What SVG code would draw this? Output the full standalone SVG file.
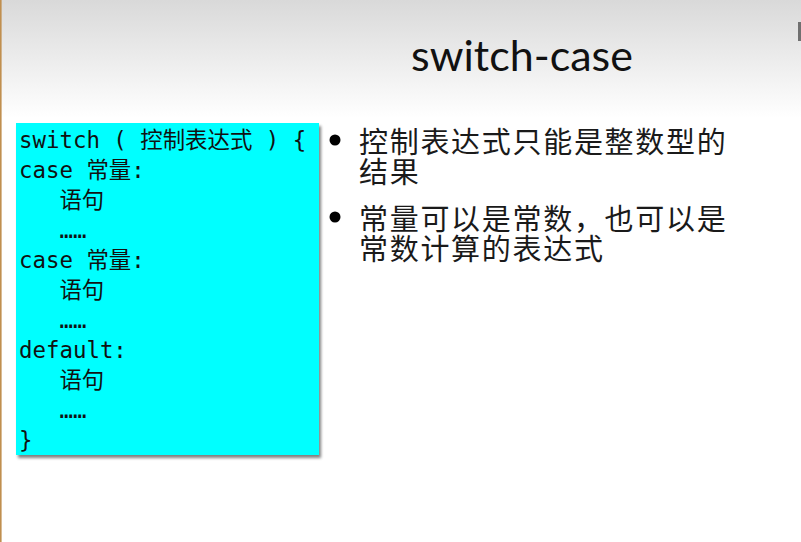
<svg xmlns="http://www.w3.org/2000/svg" width="801" height="542" viewBox="0 0 801 542">
  <defs>
    <linearGradient id="bg" x1="0" y1="0" x2="0" y2="1">
      <stop offset="0" stop-color="#d9d9d9"/>
      <stop offset="1" stop-color="#ffffff"/>
    </linearGradient>
    <filter id="shadow" x="-10%" y="-10%" width="120%" height="120%">
      <feGaussianBlur in="SourceAlpha" stdDeviation="1.5"/>
      <feOffset dx="2" dy="3" result="b"/>
      <feComponentTransfer><feFuncA type="linear" slope="0.5"/></feComponentTransfer>
      <feMerge><feMergeNode/><feMergeNode in="SourceGraphic"/></feMerge>
    </filter>
  </defs>
  <style>
    .code { font-family: "DejaVu Sans Mono", "Noto Sans CJK SC", monospace; font-size: 22.4px; fill: #111; }
    .bul { font-family: "Noto Sans CJK SC", sans-serif; font-size: 29px; letter-spacing: 1.7px; fill: #1a1a1a; }
    .title { font-family: "Lato", "Open Sans", sans-serif; font-size: 43px; fill: #111; }
  </style>
  <rect x="0" y="0" width="801" height="542" fill="#ffffff"/>
  <rect x="0" y="0" width="801" height="118" fill="url(#bg)"/>
  <rect x="0" y="0" width="1.6" height="542" fill="#c08f4f"/>
  <rect x="798" y="22" width="3" height="19" fill="#707070"/>

  <g id="title">
    <text class="title" x="522" y="71" text-anchor="middle">switch-case</text>
  </g>

  <g id="code-box">
    <rect x="16" y="123" width="303" height="332" fill="#00ffff" filter="url(#shadow)"/>
    <text class="code" x="19" y="148" xml:space="preserve">switch ( 控制表达式 ) {</text>
    <text class="code" x="19" y="178" xml:space="preserve">case 常量:</text>
    <text class="code" x="19" y="208" xml:space="preserve">   语句</text>
    <text class="code" x="19" y="238" xml:space="preserve">   ……</text>
    <text class="code" x="19" y="268" xml:space="preserve">case 常量:</text>
    <text class="code" x="19" y="298" xml:space="preserve">   语句</text>
    <text class="code" x="19" y="328" xml:space="preserve">   ……</text>
    <text class="code" x="19" y="358" xml:space="preserve">default:</text>
    <text class="code" x="19" y="388" xml:space="preserve">   语句</text>
    <text class="code" x="19" y="418" xml:space="preserve">   ……</text>
    <text class="code" x="19" y="448" xml:space="preserve">}</text>
  </g>

  <g id="bullet-1">
    <circle cx="335" cy="140" r="5.5" fill="#000"/>
    <text class="bul"><tspan x="359" y="153">控制表达式只能是整数型的</tspan><tspan x="359" y="183">结果</tspan></text>
  </g>
  <g id="bullet-2">
    <circle cx="335" cy="217" r="5.5" fill="#000"/>
    <text class="bul"><tspan x="359" y="230">常量可以是常数，也可以是</tspan><tspan x="359" y="260">常数计算的表达式</tspan></text>
  </g>
  <g id="connectors"></g>
</svg>
